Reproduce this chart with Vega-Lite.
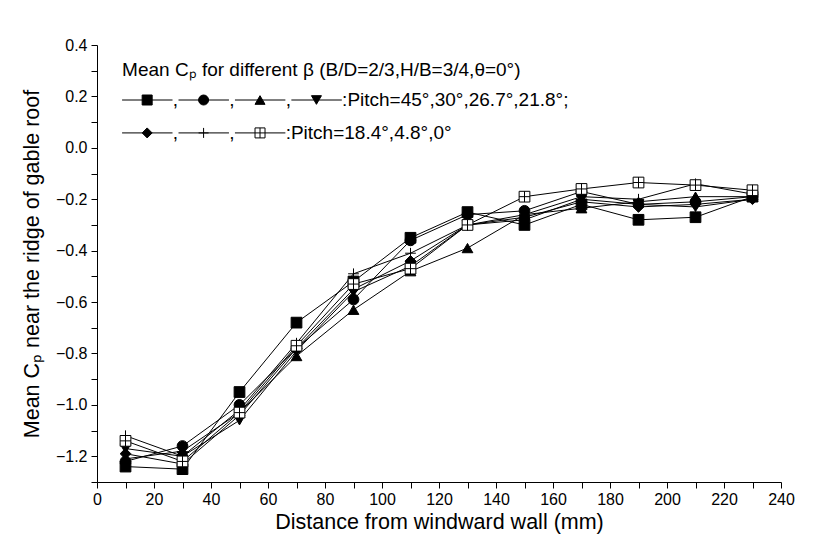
{
  "$schema": "https://vega.github.io/schema/vega-lite/v6.json",
  "width": 684,
  "height": 437,
  "autosize": "none",
  "padding": {"left": 97, "top": 45, "right": 44, "bottom": 66},
  "background": "white",
  "config": {
    "view": {"stroke": null},
    "font": "Liberation Sans",
    "axis": {
      "domainColor": "black",
      "tickColor": "black",
      "labelColor": "black",
      "titleColor": "black",
      "labelFont": "Liberation Sans",
      "titleFont": "Liberation Sans",
      "titleFontWeight": "normal",
      "labelFontSize": 16,
      "titleFontSize": 21.5,
      "grid": false,
      "tickSize": 6,
      "domainWidth": 1,
      "tickWidth": 1
    }
  },
  "datasets": {
    "main": [
      {"s": "45°", "x": 10, "y": -1.24}, {"s": "45°", "x": 30, "y": -1.25}, {"s": "45°", "x": 50, "y": -0.95}, {"s": "45°", "x": 70, "y": -0.68}, {"s": "45°", "x": 90, "y": -0.52}, {"s": "45°", "x": 110, "y": -0.35}, {"s": "45°", "x": 130, "y": -0.25}, {"s": "45°", "x": 150, "y": -0.30}, {"s": "45°", "x": 170, "y": -0.22}, {"s": "45°", "x": 190, "y": -0.28}, {"s": "45°", "x": 210, "y": -0.27}, {"s": "45°", "x": 230, "y": -0.19},
      {"s": "30°", "x": 10, "y": -1.22}, {"s": "30°", "x": 30, "y": -1.16}, {"s": "30°", "x": 50, "y": -1.00}, {"s": "30°", "x": 70, "y": -0.78}, {"s": "30°", "x": 90, "y": -0.59}, {"s": "30°", "x": 110, "y": -0.36}, {"s": "30°", "x": 130, "y": -0.26}, {"s": "30°", "x": 150, "y": -0.245}, {"s": "30°", "x": 170, "y": -0.17}, {"s": "30°", "x": 190, "y": -0.22}, {"s": "30°", "x": 210, "y": -0.21}, {"s": "30°", "x": 230, "y": -0.19},
      {"s": "26.7°", "x": 10, "y": -1.21}, {"s": "26.7°", "x": 30, "y": -1.18}, {"s": "26.7°", "x": 50, "y": -1.03}, {"s": "26.7°", "x": 70, "y": -0.81}, {"s": "26.7°", "x": 90, "y": -0.63}, {"s": "26.7°", "x": 110, "y": -0.48}, {"s": "26.7°", "x": 130, "y": -0.39}, {"s": "26.7°", "x": 150, "y": -0.26}, {"s": "26.7°", "x": 170, "y": -0.235}, {"s": "26.7°", "x": 190, "y": -0.21}, {"s": "26.7°", "x": 210, "y": -0.19}, {"s": "26.7°", "x": 230, "y": -0.19},
      {"s": "21.8°", "x": 10, "y": -1.17}, {"s": "21.8°", "x": 30, "y": -1.20}, {"s": "21.8°", "x": 50, "y": -1.06}, {"s": "21.8°", "x": 70, "y": -0.79}, {"s": "21.8°", "x": 90, "y": -0.56}, {"s": "21.8°", "x": 110, "y": -0.46}, {"s": "21.8°", "x": 130, "y": -0.30}, {"s": "21.8°", "x": 150, "y": -0.28}, {"s": "21.8°", "x": 170, "y": -0.20}, {"s": "21.8°", "x": 190, "y": -0.22}, {"s": "21.8°", "x": 210, "y": -0.23}, {"s": "21.8°", "x": 230, "y": -0.20},
      {"s": "18.4°", "x": 10, "y": -1.19}, {"s": "18.4°", "x": 30, "y": -1.23}, {"s": "18.4°", "x": 50, "y": -1.04}, {"s": "18.4°", "x": 70, "y": -0.78}, {"s": "18.4°", "x": 90, "y": -0.55}, {"s": "18.4°", "x": 110, "y": -0.44}, {"s": "18.4°", "x": 130, "y": -0.30}, {"s": "18.4°", "x": 150, "y": -0.27}, {"s": "18.4°", "x": 170, "y": -0.21}, {"s": "18.4°", "x": 190, "y": -0.23}, {"s": "18.4°", "x": 210, "y": -0.22}, {"s": "18.4°", "x": 230, "y": -0.20},
      {"s": "4.8°", "x": 10, "y": -1.12}, {"s": "4.8°", "x": 30, "y": -1.20}, {"s": "4.8°", "x": 50, "y": -1.02}, {"s": "4.8°", "x": 70, "y": -0.76}, {"s": "4.8°", "x": 90, "y": -0.49}, {"s": "4.8°", "x": 110, "y": -0.41}, {"s": "4.8°", "x": 130, "y": -0.30}, {"s": "4.8°", "x": 150, "y": -0.26}, {"s": "4.8°", "x": 170, "y": -0.19}, {"s": "4.8°", "x": 190, "y": -0.20}, {"s": "4.8°", "x": 210, "y": -0.14}, {"s": "4.8°", "x": 230, "y": -0.18},
      {"s": "0°", "x": 10, "y": -1.14}, {"s": "0°", "x": 30, "y": -1.22}, {"s": "0°", "x": 50, "y": -1.03}, {"s": "0°", "x": 70, "y": -0.77}, {"s": "0°", "x": 90, "y": -0.53}, {"s": "0°", "x": 110, "y": -0.47}, {"s": "0°", "x": 130, "y": -0.30}, {"s": "0°", "x": 150, "y": -0.19}, {"s": "0°", "x": 170, "y": -0.16}, {"s": "0°", "x": 190, "y": -0.135}, {"s": "0°", "x": 210, "y": -0.145}, {"s": "0°", "x": 230, "y": -0.165}
    ],
    "legendKeys": [
      {"s": "45°", "x": 8.8, "x2": 26.5, "xm": 17.6, "y": 0.186},
      {"s": "30°", "x": 28.6, "x2": 46.3, "xm": 37.4, "y": 0.186},
      {"s": "26.7°", "x": 48.4, "x2": 66.1, "xm": 57.2, "y": 0.186},
      {"s": "21.8°", "x": 68.2, "x2": 85.9, "xm": 77.0, "y": 0.186},
      {"s": "18.4°", "x": 8.8, "x2": 26.5, "xm": 17.6, "y": 0.058},
      {"s": "4.8°", "x": 28.6, "x2": 46.3, "xm": 37.4, "y": 0.058},
      {"s": "0°", "x": 48.4, "x2": 66.1, "xm": 57.2, "y": 0.058}
    ],
    "legendText": [
      {"x": 8.8, "y": 0.303, "t": "Mean Cₚ for different β (B/D=2/3,H/B=3/4,θ=0°)"},
      {"x": 26.6, "y": 0.186, "t": ","},
      {"x": 46.4, "y": 0.186, "t": ","},
      {"x": 66.2, "y": 0.186, "t": ","},
      {"x": 86.0, "y": 0.186, "t": ":Pitch=45°,30°,26.7°,21.8°;"},
      {"x": 26.6, "y": 0.058, "t": ","},
      {"x": 46.4, "y": 0.058, "t": ","},
      {"x": 66.2, "y": 0.058, "t": ":Pitch=18.4°,4.8°,0°"}
    ]
  },
  "encoding": {
    "x": {
      "field": "x",
      "type": "quantitative",
      "scale": {"domain": [0, 240], "nice": false, "zero": false},
      "axis": {
        "title": "Distance from windward wall (mm)",
        "values": [0, 10, 20, 30, 40, 50, 60, 70, 80, 90, 100, 110, 120, 130, 140, 150, 160, 170, 180, 190, 200, 210, 220, 230, 240],
        "labelExpr": "datum.value % 20 == 0 ? datum.label : ''",
        "labelPadding": 3,
        "titlePadding": 4,
        "labelFlush": false,
        "labelOverlap": false
      }
    },
    "y": {
      "field": "y",
      "type": "quantitative",
      "scale": {"domain": [-1.3, 0.4], "nice": false, "zero": false},
      "axis": {
        "title": "Mean Cₚ near the ridge of gable roof",
        "values": [-1.3, -1.2, -1.1, -1.0, -0.9, -0.8, -0.7, -0.6, -0.5, -0.4, -0.3, -0.2, -0.1, 0.0, 0.1, 0.2, 0.3, 0.4],
        "format": ".1f",
        "labelExpr": "abs(round(datum.value * 10)) % 2 == 0 ? datum.label : ''",
        "labelPadding": 4,
        "titlePadding": 12,
        "labelFlush": false,
        "labelOverlap": false
      }
    }
  },
  "layer": [
    {
      "data": {"name": "main"},
      "mark": {"type": "line", "color": "black", "strokeWidth": 1},
      "encoding": {
        "detail": {"field": "s", "type": "nominal"},
        "order": {"field": "x", "type": "quantitative"}
      }
    },
    {
      "data": {"name": "main"},
      "mark": {"type": "point", "filled": false, "stroke": "black", "strokeWidth": 1, "opacity": 1, "size": 115},
      "encoding": {
        "shape": {
          "field": "s", "type": "nominal", "legend": null,
          "scale": {
            "domain": ["45°", "30°", "26.7°", "21.8°", "18.4°", "4.8°", "0°"],
            "range": ["square", "circle", "triangle-up", "triangle-down", "diamond", "M-1,0L1,0M0,-1L0,1", "M-1,-1L1,-1L1,1L-1,1ZM-1,0L1,0M0,-1L0,1"]
          }
        },
        "fill": {
          "field": "s", "type": "nominal", "legend": null,
          "scale": {
            "domain": ["45°", "30°", "26.7°", "21.8°", "18.4°", "4.8°", "0°"],
            "range": ["black", "black", "black", "black", "black", "white", "white"]
          }
        }
      }
    },
    {
      "data": {"name": "legendKeys"},
      "mark": {"type": "rule", "color": "black", "strokeWidth": 1},
      "encoding": {
        "x2": {"field": "x2"}
      }
    },
    {
      "data": {"name": "legendKeys"},
      "mark": {"type": "point", "filled": false, "stroke": "black", "strokeWidth": 1, "opacity": 1, "size": 100},
      "encoding": {
        "x": {"field": "xm", "type": "quantitative"},
        "shape": {"field": "s", "type": "nominal", "legend": null},
        "fill": {"field": "s", "type": "nominal", "legend": null}
      }
    },
    {
      "data": {"name": "legendText"},
      "mark": {"type": "text", "align": "left", "baseline": "middle", "fontSize": 19, "font": "Liberation Sans", "color": "black"},
      "encoding": {
        "text": {"field": "t", "type": "nominal"}
      }
    }
  ]
}
